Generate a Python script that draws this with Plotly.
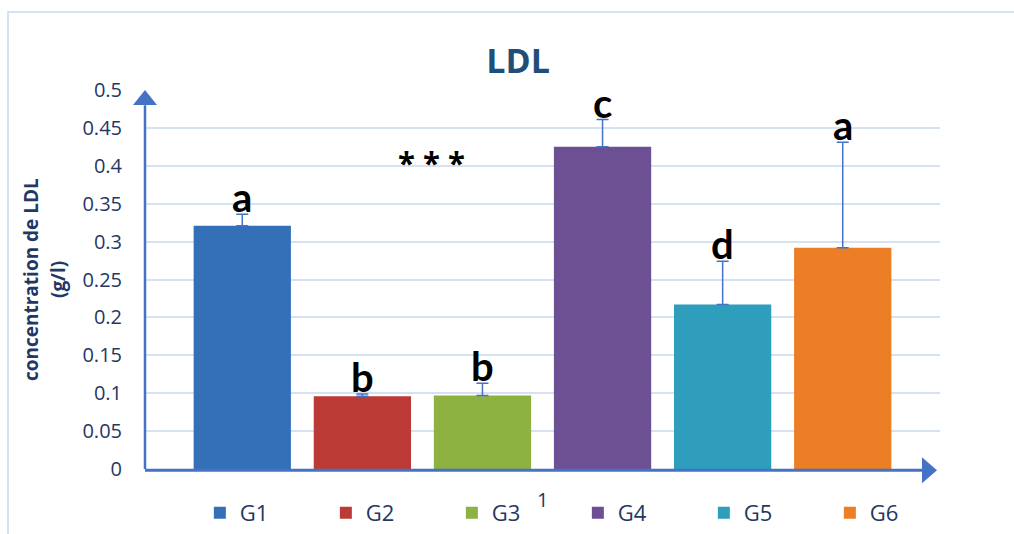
import plotly.graph_objects as go

# LDL concentration (g/l) per group, with upper error and significance letters
groups = ["G1", "G2", "G3", "G4", "G5", "G6"]
ldl_mean = [0.321, 0.096, 0.097, 0.425, 0.217, 0.292]
ldl_err = [0.015, 0.003, 0.016, 0.036, 0.057, 0.139]
sig_letters = ["a", "b", "b", "c", "d", "a"]
bar_colors = ["#3470B8", "#BC3A35", "#8DB242", "#6D4F94", "#2F9EBC", "#EC7E26"]

y_ticks = [0, 0.05, 0.1, 0.15, 0.2, 0.25, 0.3, 0.35, 0.4, 0.45, 0.5]
y_tick_labels = ["0", "0.05", "0.1", "0.15", "0.2", "0.25", "0.3", "0.35", "0.4", "0.45", "0.5"]
category_label = "1"

TEXT_BLUE = "#1F3864"
AXIS_BLUE = "#4472C4"
GRID = "#D6E2F2"
FONT = "Open Sans"

fig = go.Figure()
positions = list(range(len(groups)))
for i, g in enumerate(groups):
    fig.add_trace(go.Bar(
        x=[positions[i]], y=[ldl_mean[i]], name=g,
        width=0.81,
        marker=dict(color=bar_colors[i], line=dict(width=0)),
        error_y=dict(type="data", array=[ldl_err[i]], arrayminus=[0], symmetric=False,
                     color=AXIS_BLUE, thickness=1.5, width=6),
    ))
    fig.add_annotation(
        x=positions[i], y=ldl_mean[i] + ldl_err[i], xref="x", yref="y",
        text=f"<b>{sig_letters[i]}</b>", showarrow=False,
        yanchor="bottom", yshift=-9,
        font=dict(family="Lato", size=40, color="#000000"),
    )

# single category label under the group of bars
fig.add_annotation(x=(positions[0] + positions[-1]) / 2, y=0, xref="x", yref="y",
                   text=category_label, showarrow=False, yanchor="middle", yshift=-30,
                   font=dict(family=FONT, size=20, color=TEXT_BLUE))

# significance marker
fig.add_annotation(x=0.36, y=0.405, xref="paper", yref="y", text="<b>* * *</b>", showarrow=False,
                   font=dict(family=FONT, size=31, color="#000000"))

# y-axis title (two lines)
fig.add_annotation(x=-0.144, y=0.5, xref="paper", yref="paper", text="<b>concentration de LDL</b>",
                   textangle=-90, showarrow=False, xanchor="center", yanchor="middle",
                   font=dict(family=FONT, size=19, color=TEXT_BLUE))
fig.add_annotation(x=-0.110, y=0.5, xref="paper", yref="paper", text="<b>(g/l)</b>",
                   textangle=-90, showarrow=False, xanchor="center", yanchor="middle",
                   font=dict(family=FONT, size=19, color=TEXT_BLUE))

# axis lines with arrow heads (paper-referenced so they are not clipped)
fig.add_shape(type="line", xref="paper", yref="paper", x0=0, y0=0, x1=0, y1=0.96,
              line=dict(color=AXIS_BLUE, width=2.5))
fig.add_shape(type="line", xref="paper", yref="paper", x0=0, y0=-0.003, x1=0.98, y1=-0.003,
              line=dict(color=AXIS_BLUE, width=3))
fig.add_shape(type="path", xref="paper", yref="paper", xsizemode="pixel", ysizemode="pixel",
              xanchor=0, yanchor=1, path="M-12,-15 L12,-15 L0,0 Z",
              fillcolor=AXIS_BLUE, line=dict(width=0))
fig.add_shape(type="path", xref="paper", yref="paper", xsizemode="pixel", ysizemode="pixel",
              xanchor=0.9962, yanchor=-0.003, path="M-15,-13 L-15,13 L0,0 Z",
              fillcolor=AXIS_BLUE, line=dict(width=0))

# chart-area border
fig.add_shape(type="rect", xref="paper", yref="paper", x0=-0.1723, y0=-0.3, x1=1.2, y1=1.2058,
              line=dict(color="#D5E2F3", width=2), fillcolor="rgba(0,0,0,0)", layer="below")

fig.update_layout(
    width=1014, height=534,
    margin=dict(l=145, r=74, t=90, b=65, autoexpand=False),
    paper_bgcolor="white", plot_bgcolor="white",
    barmode="overlay",
    title=dict(text="<b>LDL</b>", x=0.511, xanchor="center", y=0.885, yanchor="middle",
               font=dict(family=FONT, size=34, color="#1F4E79")),
    font=dict(family=FONT, color=TEXT_BLUE),
    xaxis=dict(range=[-0.81, 5.81], showticklabels=False,
               showgrid=False, zeroline=False, showline=False, ticks="", fixedrange=True),
    yaxis=dict(range=[0, 0.5], tickvals=y_ticks, ticktext=y_tick_labels,
               showgrid=True, gridcolor=GRID, gridwidth=1.5, zeroline=False, showline=False,
               ticks="", ticklabelstandoff=22, tickfont=dict(size=20, color=TEXT_BLUE)),
    legend=dict(orientation="h", x=0.069, xanchor="left", y=-0.116, yanchor="middle",
                entrywidth=81, entrywidthmode="pixels",
                font=dict(size=22, color=TEXT_BLUE), bgcolor="rgba(0,0,0,0)"),
    showlegend=True,
)

fig.write_html("out.html")
